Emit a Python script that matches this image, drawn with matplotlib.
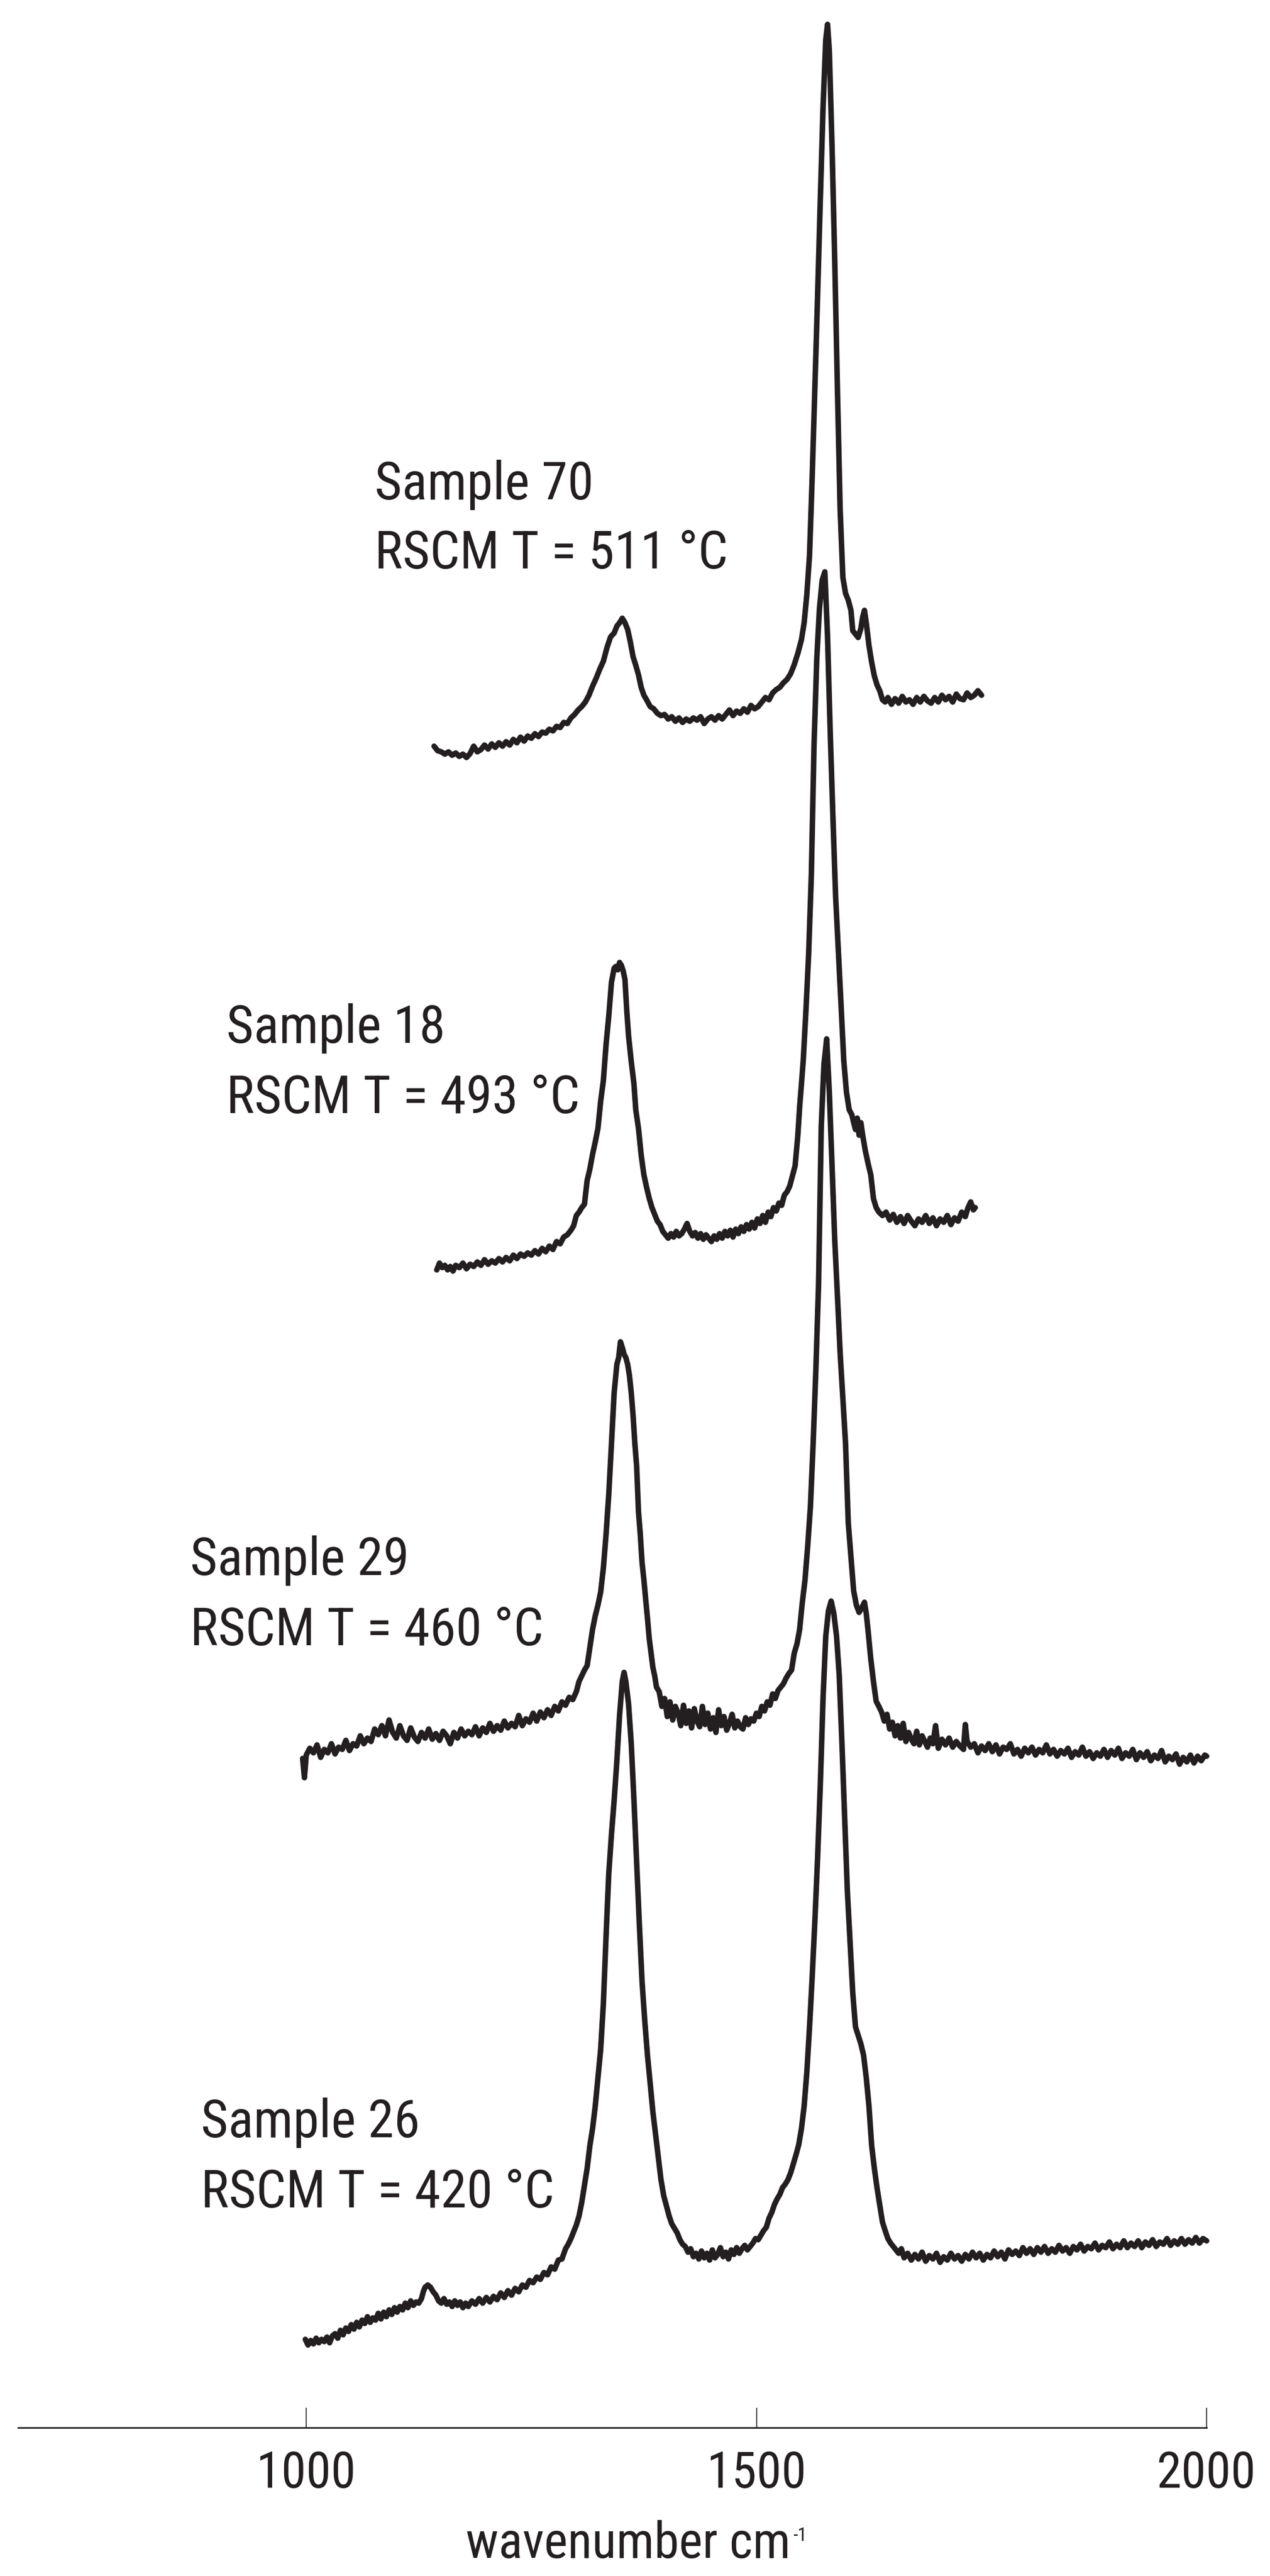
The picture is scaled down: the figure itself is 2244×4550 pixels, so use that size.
import numpy as np
import matplotlib
matplotlib.use("Agg")
import matplotlib.pyplot as plt
from matplotlib import font_manager as fm

# ---------------- data (wavenumber cm-1, relative intensity a.u.) ----------------
sample_names = ["Sample 70", "Sample 18", "Sample 29", "Sample 26"]
rscm_temps = [511, 493, 460, 420]
stack_offsets = [2948, 2043, 1178, 148]

s70 = [(1142, 22), (1146, 14), (1150, 12), (1154, 8), (1158, 12), (1162, 6), (1166, 10), (1170, 4),
       (1174, 8), (1178, 2), (1182, 9), (1186, 22), (1190, 12), (1194, 16), (1198, 24), (1202, 17),
       (1206, 26), (1210, 20), (1214, 28), (1218, 22), (1222, 30), (1226, 24), (1230, 34), (1234, 28),
       (1238, 38), (1242, 31), (1246, 40), (1250, 36), (1254, 44), (1258, 39), (1262, 47), (1266, 45),
       (1270, 52), (1274, 49), (1278, 57), (1282, 55), (1286, 64), (1290, 62), (1294, 72), (1298, 78),
       (1302, 86), (1306, 92), (1310, 100), (1314, 112), (1318, 128), (1322, 142), (1326, 158),
       (1330, 172), (1334, 196), (1338, 215), (1342, 222), (1345, 234), (1348, 240), (1351, 248),
       (1354, 240), (1357, 228), (1360, 206), (1363, 180), (1366, 165), (1369, 148), (1372, 126),
       (1375, 112), (1378, 104), (1382, 92), (1386, 88), (1390, 80), (1394, 76), (1398, 78), (1402, 70),
       (1406, 74), (1410, 66), (1414, 72), (1418, 64), (1422, 70), (1426, 66), (1430, 72), (1434, 68),
       (1438, 74), (1442, 62), (1446, 70), (1450, 74), (1454, 68), (1458, 76), (1462, 70), (1466, 78),
       (1470, 86), (1474, 76), (1478, 84), (1482, 80), (1486, 88), (1490, 82), (1494, 94), (1498, 88),
       (1502, 92), (1506, 100), (1510, 108), (1514, 104), (1518, 116), (1522, 122), (1526, 126),
       (1530, 134), (1534, 140), (1538, 150), (1542, 166), (1546, 186), (1550, 210), (1553, 240),
       (1556, 290), (1559, 360), (1562, 500), (1565, 660), (1568, 820), (1571, 990), (1574, 1150),
       (1577, 1270), (1579, 1297), (1581, 1250), (1584, 1080), (1587, 880), (1590, 650), (1593, 440),
       (1596, 320), (1599, 292), (1602, 280), (1605, 262), (1607, 226), (1610, 220), (1613, 214),
       (1616, 230), (1618, 250), (1620, 262), (1622, 240), (1625, 200), (1628, 170), (1631, 146),
       (1634, 130), (1637, 120), (1640, 104), (1643, 100), (1646, 108), (1650, 96), (1654, 106),
       (1658, 98), (1662, 110), (1666, 100), (1670, 104), (1674, 96), (1678, 108), (1682, 100),
       (1686, 110), (1690, 102), (1694, 98), (1698, 108), (1702, 100), (1706, 112), (1710, 104),
       (1714, 110), (1718, 100), (1722, 114), (1726, 106), (1730, 104), (1734, 116), (1738, 108),
       (1742, 112), (1746, 120), (1750, 112)]

s18 = [(1145, 2), (1148, 14), (1151, 6), (1154, 10), (1157, 2), (1160, 8), (1163, 0), (1166, 10),
       (1170, 6), (1174, 14), (1178, 4), (1182, 12), (1186, 8), (1190, 16), (1194, 10), (1198, 20),
       (1202, 12), (1206, 18), (1210, 14), (1214, 22), (1218, 16), (1222, 24), (1226, 18), (1230, 28),
       (1234, 22), (1238, 30), (1242, 26), (1246, 32), (1250, 28), (1254, 36), (1258, 30), (1262, 40),
       (1266, 34), (1270, 44), (1274, 38), (1278, 52), (1282, 48), (1286, 60), (1290, 64), (1294, 72),
       (1297, 80), (1300, 98), (1303, 104), (1306, 112), (1309, 118), (1312, 160), (1315, 180),
       (1318, 206), (1321, 228), (1324, 252), (1327, 300), (1330, 336), (1333, 400), (1336, 450),
       (1339, 510), (1342, 535), (1344, 538), (1346, 532), (1348, 545), (1350, 540), (1352, 530),
       (1354, 515), (1356, 460), (1358, 415), (1361, 370), (1364, 330), (1366, 285), (1369, 252),
       (1372, 205), (1375, 170), (1378, 148), (1381, 128), (1384, 112), (1387, 100), (1390, 88),
       (1393, 82), (1396, 70), (1399, 64), (1402, 58), (1405, 66), (1408, 60), (1411, 70), (1414, 62),
       (1417, 66), (1420, 74), (1423, 84), (1426, 70), (1429, 62), (1432, 68), (1435, 58), (1438, 66),
       (1441, 56), (1444, 64), (1447, 58), (1450, 52), (1453, 62), (1456, 56), (1459, 66), (1462, 58),
       (1465, 70), (1468, 62), (1471, 72), (1474, 60), (1477, 74), (1480, 66), (1483, 78), (1486, 70),
       (1489, 82), (1492, 74), (1495, 86), (1498, 76), (1501, 92), (1504, 84), (1507, 98), (1510, 86),
       (1513, 104), (1516, 96), (1519, 112), (1522, 106), (1525, 120), (1528, 116), (1531, 134),
       (1534, 140), (1537, 150), (1540, 168), (1543, 186), (1546, 240), (1548, 290), (1550, 330),
       (1552, 372), (1555, 460), (1558, 560), (1561, 700), (1564, 930), (1567, 1080), (1570, 1170),
       (1573, 1220), (1576, 1235), (1579, 1120), (1582, 950), (1585, 800), (1588, 660), (1591, 565),
       (1594, 470), (1597, 372), (1600, 316), (1603, 285), (1606, 276), (1608, 262), (1610, 250),
       (1612, 270), (1614, 240), (1616, 262), (1618, 240), (1621, 212), (1624, 190), (1627, 170),
       (1630, 128), (1633, 112), (1636, 104), (1640, 98), (1644, 104), (1648, 90), (1652, 100),
       (1656, 86), (1660, 96), (1664, 84), (1668, 98), (1672, 88), (1676, 80), (1680, 92), (1684, 86),
       (1688, 98), (1692, 84), (1696, 94), (1700, 80), (1704, 92), (1708, 86), (1712, 98), (1716, 82),
       (1720, 94), (1724, 88), (1728, 104), (1732, 96), (1735, 112), (1738, 122), (1741, 108),
       (1743, 112)]

s29 = [(996, 4), (998, -30), (1000, 10), (1004, 22), (1008, 14), (1012, 28), (1016, 6), (1020, 20),
       (1024, 14), (1028, 30), (1032, 12), (1036, 24), (1040, 20), (1044, 36), (1048, 18), (1052, 30),
       (1056, 26), (1060, 44), (1064, 30), (1068, 40), (1072, 34), (1076, 56), (1080, 46), (1084, 62),
       (1088, 44), (1092, 72), (1096, 50), (1100, 40), (1104, 62), (1108, 44), (1112, 36), (1116, 58),
       (1120, 42), (1124, 34), (1128, 50), (1132, 40), (1136, 56), (1140, 38), (1144, 48), (1148, 36),
       (1152, 52), (1156, 44), (1160, 30), (1164, 50), (1168, 40), (1172, 56), (1176, 44), (1180, 52),
       (1184, 46), (1188, 60), (1192, 44), (1196, 58), (1200, 50), (1204, 66), (1208, 52), (1212, 62),
       (1216, 54), (1220, 70), (1224, 58), (1228, 66), (1232, 60), (1236, 80), (1240, 62), (1244, 74),
       (1248, 68), (1252, 84), (1256, 70), (1260, 86), (1264, 76), (1268, 90), (1272, 80), (1276, 96),
       (1280, 88), (1284, 104), (1288, 98), (1292, 112), (1296, 108), (1300, 122), (1303, 140),
       (1306, 150), (1309, 160), (1312, 168), (1315, 200), (1318, 232), (1321, 256), (1324, 275),
       (1327, 298), (1330, 340), (1333, 400), (1336, 470), (1339, 560), (1342, 650), (1345, 700),
       (1347, 712), (1349, 740), (1351, 730), (1353, 718), (1355, 712), (1357, 700), (1359, 680),
       (1361, 650), (1363, 610), (1365, 560), (1367, 520), (1369, 440), (1371, 400), (1373, 350),
       (1375, 320), (1377, 285), (1379, 252), (1381, 215), (1383, 190), (1385, 165), (1387, 150),
       (1389, 130), (1392, 122), (1395, 96), (1398, 110), (1401, 78), (1404, 104), (1407, 72),
       (1410, 96), (1413, 84), (1416, 62), (1419, 98), (1422, 66), (1425, 88), (1428, 58), (1431, 92),
       (1434, 70), (1437, 60), (1440, 96), (1443, 64), (1446, 84), (1449, 56), (1452, 76), (1455, 50),
       (1458, 90), (1461, 62), (1464, 78), (1467, 54), (1470, 66), (1473, 82), (1476, 58), (1479, 70),
       (1482, 60), (1485, 56), (1488, 76), (1491, 64), (1494, 74), (1497, 70), (1500, 84), (1503, 78),
       (1506, 96), (1509, 88), (1512, 104), (1515, 98), (1518, 118), (1521, 110), (1524, 124),
       (1527, 130), (1530, 136), (1533, 146), (1536, 154), (1539, 160), (1542, 190), (1545, 206),
       (1548, 232), (1551, 280), (1554, 320), (1557, 380), (1560, 450), (1563, 560), (1566, 690),
       (1569, 840), (1572, 1120), (1575, 1230), (1578, 1275), (1581, 1180), (1584, 1050), (1587, 920),
       (1590, 820), (1593, 720), (1596, 640), (1599, 560), (1602, 420), (1605, 360), (1608, 300),
       (1611, 275), (1614, 262), (1617, 270), (1620, 280), (1622, 260), (1624, 230), (1627, 180),
       (1630, 140), (1633, 105), (1636, 96), (1639, 86), (1642, 70), (1645, 82), (1648, 56),
       (1651, 68), (1654, 44), (1657, 62), (1660, 40), (1663, 66), (1666, 34), (1669, 50), (1672, 38),
       (1675, 30), (1678, 52), (1681, 28), (1684, 44), (1687, 34), (1690, 24), (1693, 40), (1696, 30),
       (1699, 62), (1702, 22), (1706, 38), (1710, 28), (1714, 40), (1718, 24), (1722, 34), (1726, 26),
       (1730, 20), (1732, 64), (1734, 34), (1738, 24), (1742, 30), (1746, 14), (1750, 26), (1754, 18),
       (1758, 30), (1762, 16), (1766, 28), (1770, 12), (1774, 24), (1778, 20), (1782, 30), (1786, 12),
       (1790, 20), (1794, 8), (1798, 22), (1802, 14), (1806, 24), (1810, 10), (1814, 20), (1818, 14),
       (1822, 28), (1826, 12), (1830, 20), (1834, 8), (1838, 18), (1842, 12), (1846, 22), (1850, 6),
       (1854, 16), (1858, 10), (1862, 24), (1866, 8), (1870, 16), (1874, 4), (1878, 14), (1882, 8),
       (1886, 20), (1890, 6), (1894, 18), (1898, 10), (1902, 22), (1906, 4), (1910, 14), (1914, 8),
       (1918, 20), (1922, 2), (1926, 14), (1930, 6), (1934, 16), (1938, 0), (1942, 10), (1946, 4),
       (1950, 18), (1954, -2), (1958, 8), (1962, 2), (1966, 12), (1970, -6), (1974, 6), (1978, -2),
       (1982, 10), (1986, -4), (1990, 8), (1994, 0), (1998, 10), (2000, 8)]

s26 = [(999, 8), (1002, -2), (1005, 6), (1008, 0), (1011, 10), (1014, 2), (1017, 8), (1020, 4),
       (1023, 12), (1026, 2), (1029, 14), (1032, 18), (1035, 10), (1038, 24), (1041, 16), (1044, 28),
       (1047, 22), (1050, 34), (1053, 26), (1056, 38), (1059, 30), (1062, 42), (1065, 36), (1068, 48),
       (1071, 38), (1074, 46), (1077, 42), (1080, 54), (1083, 44), (1086, 56), (1089, 48), (1092, 60),
       (1095, 52), (1098, 64), (1101, 56), (1104, 66), (1107, 60), (1110, 72), (1113, 64), (1116, 76),
       (1119, 68), (1122, 74), (1125, 72), (1128, 80), (1130, 92), (1132, 100), (1135, 104),
       (1138, 100), (1141, 92), (1144, 86), (1147, 76), (1150, 72), (1153, 80), (1156, 70), (1159, 74),
       (1162, 66), (1165, 76), (1168, 68), (1171, 74), (1174, 64), (1177, 72), (1180, 66), (1184, 76),
       (1188, 70), (1192, 80), (1196, 72), (1200, 82), (1204, 74), (1208, 84), (1212, 78), (1216, 90),
       (1220, 82), (1224, 94), (1228, 86), (1232, 98), (1236, 92), (1240, 104), (1244, 100),
       (1248, 112), (1252, 108), (1256, 118), (1260, 114), (1264, 126), (1268, 122), (1272, 136),
       (1276, 132), (1280, 148), (1284, 150), (1288, 168), (1291, 176), (1294, 186), (1297, 198),
       (1300, 210), (1303, 226), (1306, 250), (1309, 280), (1312, 310), (1315, 350), (1318, 380),
       (1321, 420), (1324, 470), (1327, 520), (1330, 600), (1333, 720), (1336, 830), (1339, 900),
       (1342, 960), (1345, 1030), (1348, 1110), (1351, 1170), (1353, 1186), (1355, 1170), (1358, 1130),
       (1361, 1060), (1364, 960), (1367, 850), (1370, 740), (1373, 640), (1376, 570), (1379, 510),
       (1382, 460), (1385, 410), (1388, 370), (1391, 330), (1394, 290), (1397, 262), (1400, 244),
       (1403, 226), (1406, 212), (1409, 204), (1412, 196), (1415, 184), (1418, 176), (1421, 172),
       (1424, 162), (1427, 168), (1430, 154), (1433, 160), (1436, 150), (1439, 164), (1442, 152),
       (1445, 160), (1448, 148), (1451, 166), (1454, 152), (1457, 158), (1460, 170), (1463, 154),
       (1466, 162), (1469, 150), (1472, 166), (1475, 158), (1478, 170), (1481, 160), (1484, 168),
       (1487, 174), (1490, 166), (1493, 172), (1496, 178), (1499, 186), (1502, 184), (1505, 192),
       (1508, 200), (1511, 206), (1514, 222), (1517, 232), (1520, 246), (1523, 256), (1526, 264),
       (1529, 276), (1532, 282), (1535, 290), (1538, 302), (1541, 318), (1544, 334), (1547, 352),
       (1550, 380), (1553, 420), (1556, 480), (1559, 560), (1562, 650), (1565, 750), (1568, 860),
       (1571, 990), (1574, 1140), (1577, 1250), (1580, 1295), (1583, 1312), (1586, 1290), (1589, 1250),
       (1592, 1180), (1595, 1060), (1598, 930), (1601, 800), (1604, 710), (1607, 620), (1610, 560),
       (1613, 545), (1616, 530), (1619, 510), (1622, 470), (1625, 420), (1628, 350), (1631, 310),
       (1634, 275), (1637, 245), (1640, 215), (1643, 200), (1646, 186), (1649, 178), (1652, 172),
       (1655, 166), (1658, 160), (1661, 168), (1664, 152), (1668, 160), (1672, 148), (1676, 158),
       (1680, 150), (1684, 162), (1688, 146), (1692, 156), (1696, 150), (1700, 160), (1704, 144),
       (1708, 154), (1712, 148), (1716, 160), (1720, 150), (1724, 156), (1728, 146), (1732, 158),
       (1736, 150), (1740, 162), (1744, 152), (1748, 160), (1752, 148), (1756, 158), (1760, 152),
       (1764, 164), (1768, 154), (1772, 162), (1776, 150), (1780, 166), (1784, 158), (1788, 164),
       (1792, 156), (1796, 170), (1800, 160), (1804, 168), (1808, 158), (1812, 170), (1816, 162),
       (1820, 172), (1824, 160), (1828, 168), (1832, 162), (1836, 174), (1840, 164), (1844, 170),
       (1848, 160), (1852, 172), (1856, 166), (1860, 176), (1864, 164), (1868, 172), (1872, 168),
       (1876, 178), (1880, 166), (1884, 174), (1888, 170), (1892, 180), (1896, 168), (1900, 176),
       (1904, 170), (1908, 182), (1912, 170), (1916, 178), (1920, 172), (1924, 182), (1928, 170),
       (1932, 180), (1936, 174), (1940, 184), (1944, 172), (1948, 180), (1952, 176), (1956, 186),
       (1960, 174), (1964, 182), (1968, 176), (1972, 186), (1976, 176), (1980, 184), (1984, 178),
       (1988, 188), (1992, 178), (1996, 186), (2000, 182)]

spectra = [s70, s18, s29, s26]
xticks = [1000, 1500, 2000]
xlabel_main = "wavenumber cm"
xlabel_sup = "-1"

# ---------------- font ----------------
names = {f.name for f in fm.fontManager.ttflist}
font = "DejaVu Sans"
for cand in ["Liberation Sans Narrow", "Roboto Condensed", "Open Sans Condensed",
             "Noto Sans Display", "Open Sans", "Liberation Sans"]:
    if cand in names:
        font = cand
        break
plt.rcParams["font.family"] = [font, "DejaVu Sans"]

INK = "#231f20"
W, H, DPI = 2244, 4550, 100
fig = plt.figure(figsize=(W / DPI, H / DPI), dpi=DPI)
fig.patch.set_facecolor("white")

axis_y = 4288
ax = fig.add_axes([32 / W, (H - axis_y) / H, (2132 - 32) / W, axis_y / H])
ax.set_xlim(680, 2000)
ax.set_ylim(0, axis_y)
ax.patch.set_alpha(0)

for data, off in zip(spectra, stack_offsets):
    arr = np.array(data, dtype=float)
    ax.plot(arr[:, 0], arr[:, 1] + off, color=INK, lw=7.0, solid_joinstyle="round",
            solid_capstyle="round", clip_on=False)

for side in ["left", "top", "right"]:
    ax.spines[side].set_visible(False)
ax.spines["bottom"].set_linewidth(2.0)
ax.spines["bottom"].set_color(INK)
ax.set_yticks([])
ax.set_xticks(xticks)
ax.set_xticklabels([str(t) for t in xticks])
ax.tick_params(axis="x", direction="in", length=25, width=1.2, color=INK,
               labelsize=64, labelcolor=INK, pad=28)

# sample labels (pixel positions of left edge / baselines)
label_pos = [(662, 882, 1004), (400, 1842, 1966), (336, 2782, 2906), (355, 3775, 3899)]
for name, temp, (lx, b1, b2) in zip(sample_names, rscm_temps, label_pos):
    fig.text(lx / W, 1 - b1 / H, name, ha="left", va="baseline", fontsize=67, color=INK)
    fig.text(lx / W, 1 - b2 / H, f"RSCM T = {temp} °C", ha="left", va="baseline",
             fontsize=67, color=INK)

t = fig.text(823 / W, 1 - 4518 / H, xlabel_main, ha="left", va="baseline", fontsize=64, color=INK)
fig.canvas.draw()
bb = t.get_window_extent(renderer=fig.canvas.get_renderer())
fig.text((bb.x1 + 4) / W, 1 - 4488 / H, xlabel_sup, ha="left", va="baseline",
         fontsize=24, color=INK)

fig.savefig("out.png", dpi=DPI, facecolor="white")
